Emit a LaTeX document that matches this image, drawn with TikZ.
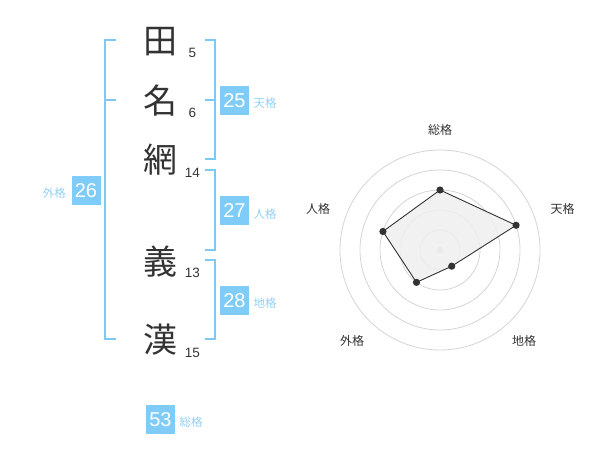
\documentclass[tikz,border=0pt]{standalone}
\usepackage{fontspec}
\setmainfont{Liberation Sans}
\newfontfamily\jp{Noto Sans CJK JP}
\definecolor{boxblue}{HTML}{80CCF8}
\definecolor{lineblue}{HTML}{7EC9F4}
\definecolor{lblue}{HTML}{90D0F4}
\definecolor{ink}{HTML}{333333}
\definecolor{ring}{HTML}{D4D4D4}
\definecolor{area}{HTML}{EFEFEF}

\begin{document}
\begin{tikzpicture}[x=1pt,y=-1pt,
    kanji/.style={text=ink,font=\jp\fontsize{34}{34}\selectfont,inner sep=0pt},
    strokes/.style={text=ink,font=\fontsize{13.5}{13.5}\selectfont,inner sep=0pt},
    sumbox/.style={fill=boxblue,text=white,minimum size=29pt,inner sep=0pt,font=\fontsize{20}{20}\selectfont},
    kaku/.style={text=lblue,font=\jp\fontsize{11.5}{11.5}\selectfont,inner sep=0pt},
    axis/.style={text=ink,font=\jp\fontsize{12}{12}\selectfont,inner sep=0pt},
    bracket/.style={lineblue,line width=2pt}]
    \useasboundingbox (0,0) rectangle (600,470);

    % characters and stroke counts
    \node[kanji] (c1) at (160,42) {田};
    \node[kanji] (c2) at (160,101) {名};
    \node[kanji] (c3) at (160,160) {網};
    \node[kanji] (c4) at (160,262) {義};
    \node[kanji] (c5) at (160,340) {漢};
    \node[strokes] (n1) at (192.5,52.5) {5};
    \node[strokes] (n2) at (192.5,112.5) {6};
    \node[strokes] (n3) at (192.5,172.5) {14};
    \node[strokes] (n4) at (192.5,272.5) {13};
    \node[strokes] (n5) at (192.5,352.5) {15};

    % brackets
    \draw[bracket] (116,40) -- (105,40) -- (105,339.5) -- (116,339.5);
    \draw[bracket] (105,100) -- (116,100);
    \draw[bracket] (205,40) -- (214.5,40) -- (214.5,159.5) -- (205,159.5);
    \draw[bracket] (205,100) -- (214.5,100);
    \draw[bracket] (205,170.5) -- (214.5,170.5) -- (214.5,250) -- (205,250);
    \draw[bracket] (205,260) -- (214.5,260) -- (214.5,339.5) -- (205,339.5);

    % sums
    \node[sumbox] (ten) at (234.5,100.5) {25};
    \node[kaku,anchor=west] at (253.5,103.5) {天格};
    \node[sumbox] (jin) at (234.5,211) {27};
    \node[kaku,anchor=west] at (253.5,214) {人格};
    \node[sumbox] (chi) at (234.5,300.5) {28};
    \node[kaku,anchor=west] at (253.5,303.5) {地格};
    \node[sumbox] (gai) at (86,190.5) {26};
    \node[kaku,anchor=east] at (66,193.5) {外格};
    \node[sumbox] (sou) at (160.5,419.5) {53};
    \node[kaku,anchor=west] at (179.5,422.5) {総格};

    % radar chart
    \begin{scope}[shift={(440,250)}]
    \foreach \r in {20,40,60,80,100}
        \draw[ring,line width=0.8pt] (0,0) circle (\r);
    \fill[ring] (0,0) circle (3.5);
    \coordinate (p1) at (-90:60);
    \coordinate (p2) at (-18:80);
    \coordinate (p3) at (54:20);
    \coordinate (p4) at (126:40);
    \coordinate (p5) at (198:60);
    \draw[ink,fill=area,fill opacity=.85,line width=0.9pt] (p1) -- (p2) -- (p3) -- (p4) -- (p5) -- cycle;
    \foreach \p in {p1,p2,p3,p4,p5}
        \fill[ink] (\p) circle (3.6);
    \end{scope}
    \node[axis] (a1) at (440,130) {総格};
    \node[axis] (a2) at (562.5,208.5) {天格};
    \node[axis] (a3) at (524,341) {地格};
    \node[axis] (a4) at (352,341) {外格};
    \node[axis] (a5) at (318,208.5) {人格};
\end{tikzpicture}
\end{document}
